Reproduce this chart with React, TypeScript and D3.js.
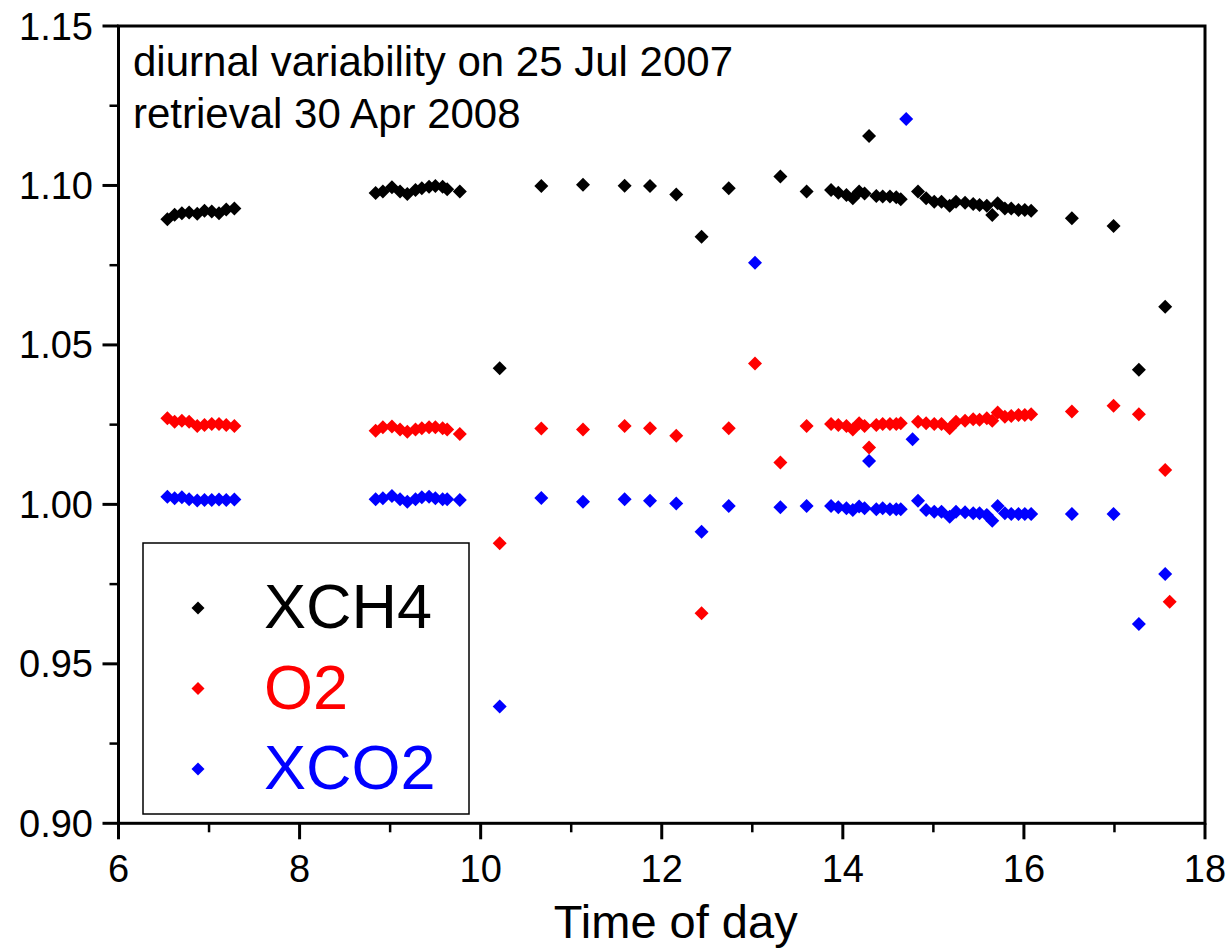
import React from "react";
import * as d3 from "d3";

const times: number[] = [
  6.54, 6.62, 6.70, 6.78, 6.87, 6.95, 7.03, 7.11, 7.19, 7.28,
  8.84, 8.92, 9.02, 9.11, 9.19, 9.28, 9.35, 9.43, 9.50, 9.58, 9.63, 9.77,
  10.21, 10.67, 11.13, 11.59, 11.87, 12.16, 12.44, 12.74, 13.03, 13.31, 13.60,
  13.87, 13.95, 14.04, 14.11, 14.18, 14.24, 14.29, 14.37, 14.44, 14.52, 14.59, 14.64, 14.70, 14.77,
  14.83, 14.92, 15.01, 15.09, 15.18, 15.25, 15.35, 15.44, 15.51, 15.59, 15.65, 15.71, 15.79, 15.86, 15.94, 16.01, 16.08,
  16.53, 16.99, 17.27, 17.56, 17.61,
];

const xch4: (number | null)[] = [
  1.0894, 1.0908, 1.0913, 1.0915, 1.0911, 1.0921, 1.0918, 1.0913, 1.0925, 1.0928,
  1.0976, 1.0981, 1.0994, 1.0981, 1.0973, 1.0986, 1.0991, 1.0996, 1.0998, 1.0996, 1.0988, 1.0981,
  1.0427, 1.0998, 1.1002, 1.0999, 1.0998, 1.0972, 1.0839, 1.0991, null, 1.1028, 1.0981,
  1.0986, 1.0977, 1.0970, 1.0960, 1.0981, 1.0975, 1.1155, 1.0967, 1.0965, 1.0965, 1.0963, 1.0957, null, null,
  1.0981, 1.0960, 1.0949, 1.0949, 1.0936, 1.0949, 1.0946, 1.0942, 1.0939, 1.0936, 1.0907, 1.0944, 1.0928, 1.0928, 1.0923, 1.0923, 1.0921,
  1.0897, 1.0873, 1.0422, 1.0620, null,
];

const o2: (number | null)[] = [
  1.0270, 1.0259, 1.0262, 1.0259, 1.0246, 1.0249, 1.0252, 1.0252, 1.0249, 1.0246,
  1.0231, 1.0242, 1.0244, 1.0235, 1.0228, 1.0235, 1.0239, 1.0242, 1.0242, 1.0239, 1.0235, 1.0221,
  0.9878, 1.0238, 1.0235, 1.0246, 1.0239, 1.0215, 0.9659, 1.0239, 1.0442, 1.0131, 1.0246,
  1.0252, 1.0249, 1.0246, 1.0235, 1.0254, 1.0246, 1.0178, 1.0249, 1.0252, 1.0252, 1.0252, 1.0254, null, null,
  1.0259, 1.0254, 1.0252, 1.0252, 1.0239, 1.0259, 1.0262, 1.0267, 1.0265, 1.0270, 1.0262, 1.0288, 1.0275, 1.0277, 1.0280, 1.0280, 1.0283,
  1.0291, 1.0309, 1.0283, 1.0108, 0.9695,
];

const xco2: (number | null)[] = [
  1.0024, 1.0019, 1.0022, 1.0016, 1.0012, 1.0014, 1.0014, 1.0015, 1.0014, 1.0015,
  1.0016, 1.0019, 1.0026, 1.0016, 1.0008, 1.0016, 1.0022, 1.0024, 1.0019, 1.0016, 1.0016, 1.0014,
  0.9366, 1.0020, 1.0008, 1.0016, 1.0011, 1.0003, 0.9914, 0.9995, 1.0758, 0.9991, 0.9995,
  0.9995, 0.9991, 0.9988, 0.9982, 0.9993, 0.9988, 1.0136, 0.9985, 0.9988, 0.9985, 0.9985, 0.9985, 1.1208, 1.0204,
  1.0011, 0.9982, 0.9977, 0.9977, 0.9961, 0.9977, 0.9975, 0.9972, 0.9972, 0.9967, 0.9949, 0.9995, 0.9972, 0.9970, 0.9970, 0.9970, 0.9970,
  0.9970, 0.9970, 0.9625, 0.9782, null,
];

const seriesNames = ["XCH4", "O2", "XCO2"];
const seriesColors = ["#000000", "#ff0000", "#0000ff"];
const seriesValues = [xch4, o2, xco2];

const xTicks = [6, 8, 10, 12, 14, 16, 18];
const xMinor = [7, 9, 11, 13, 15, 17];
const yTicks = [0.9, 0.95, 1.0, 1.05, 1.1, 1.15];
const yMinor = [0.925, 0.975, 1.025, 1.075, 1.125];

const annotation = ["diurnal variability on 25 Jul 2007", "retrieval 30 Apr 2008"];
const xTitle = "Time of day";

const W = 1230;
const H = 949;
const left = 118.5;
const right = 1205;
const top = 26;
const bottom = 823.3;

const FONT = "'Liberation Sans', Arial, Helvetica, sans-serif";

function diamond(r: number) {
  return `M0,${-r}L${r},0L0,${r}L${-r},0Z`;
}

export default function App() {
  const x = d3.scaleLinear().domain([6, 18]).range([left, right]);
  const y = d3.scaleLinear().domain([0.9, 1.15]).range([bottom, top]);
  const fmtY = d3.format(".2f");

  return (
    <div style={{ position: "absolute", left: 0, top: 0, background: "#fff" }}>
      <svg width={W} height={H} style={{ display: "block" }} fontFamily={FONT}>
        <rect x={0} y={0} width={W} height={H} fill="#fff" />
        {/* points */}
        {seriesValues.map((vals, si) => (
          <g key={si} fill={seriesColors[si]}>
            {vals.map((v, i) =>
              v == null ? null : (
                <path key={i} d={diamond(7)} transform={`translate(${x(times[i])},${y(v)})`} />
              )
            )}
          </g>
        ))}
        {/* frame */}
        <rect x={left} y={top} width={right - left} height={bottom - top} fill="none" stroke="#000" strokeWidth={3} />
        {/* x ticks */}
        {xTicks.map((t) => (
          <g key={"xt" + t}>
            <line x1={x(t)} x2={x(t)} y1={bottom} y2={bottom + 16} stroke="#000" strokeWidth={3} />
            <text x={x(t)} y={882} textAnchor="middle" fontSize={38}>
              {t}
            </text>
          </g>
        ))}
        {xMinor.map((t) => (
          <line key={"xm" + t} x1={x(t)} x2={x(t)} y1={bottom} y2={bottom + 9} stroke="#000" strokeWidth={2.5} />
        ))}
        {/* y ticks */}
        {yTicks.map((t) => (
          <g key={"yt" + t}>
            <line x1={left - 16} x2={left} y1={y(t)} y2={y(t)} stroke="#000" strokeWidth={3} />
            <text x={93} y={y(t) + 13.5} textAnchor="end" fontSize={38}>
              {fmtY(t)}
            </text>
          </g>
        ))}
        {yMinor.map((t) => (
          <line key={"ym" + t} x1={left - 9} x2={left} y1={y(t)} y2={y(t)} stroke="#000" strokeWidth={2.5} />
        ))}
        {/* axis title */}
        <text x={(left + right) / 2 + 14} y={938} textAnchor="middle" fontSize={47}>
          {xTitle}
        </text>
        {/* annotation */}
        {annotation.map((s, i) => (
          <text key={i} x={133} y={76 + i * 52} fontSize={42}>
            {s}
          </text>
        ))}
        {/* legend */}
        <rect x={143} y={543} width={326} height={271} fill="#fff" stroke="#000" strokeWidth={1.5} />
        {seriesNames.map((n, i) => (
          <g key={n}>
            <path d={diamond(6.5)} fill={seriesColors[i]} transform={`translate(198,${608 + i * 80.5})`} />
            <text x={264} y={628 + i * 80.5} fontSize={63} fill={seriesColors[i]}>
              {n}
            </text>
          </g>
        ))}
      </svg>
    </div>
  );
}
